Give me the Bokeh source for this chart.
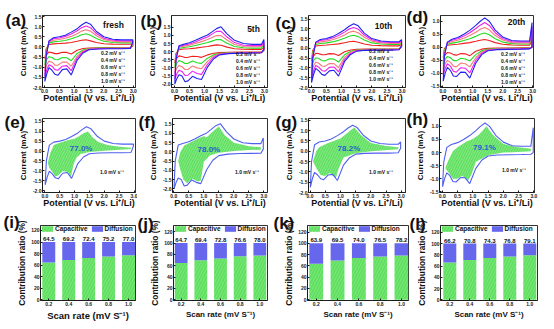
from bokeh.plotting import figure
from bokeh.models import (Range1d, FixedTicker, PrintfTickFormatter, Legend,
                          LegendItem, Label, ColumnDataSource)
from bokeh.layouts import column, row
from bokeh.embed import file_html
from bokeh.resources import INLINE
from bokeh.core.properties import value

FONT = "Liberation Sans"

# ---------------- data ----------------
RATES = ["0.2", "0.4", "0.6", "0.8", "1.0"]
RATE_COLORS = ["#f01f1f", "#22dd22", "#f47c7c", "#ee22ee", "#2222ee"]

V_ANODIC = [0.01, 0.05, 0.15, 0.3, 0.5, 0.7, 0.9, 1.1, 1.25, 1.4, 1.55, 1.75, 2.0, 2.3, 2.6, 2.9, 2.98]
V_CATHODIC = [2.98, 2.9, 2.6, 2.2, 1.8, 1.5, 1.3, 1.1, 0.9, 0.75, 0.6, 0.45, 0.35, 0.25, 0.15, 0.08, 0.01]

FRESH_ANODIC = [
    [-0.6, -0.1, 0.12, 0.15, 0.17, 0.19, 0.22, 0.28, 0.33, 0.35, 0.3, 0.22, 0.16, 0.14, 0.13, 0.13, 0.14],
    [-0.9, -0.2, 0.2, 0.25, 0.28, 0.32, 0.4, 0.5, 0.6, 0.65, 0.58, 0.42, 0.28, 0.22, 0.2, 0.2, 0.2],
    [-1.2, -0.3, 0.25, 0.33, 0.37, 0.43, 0.52, 0.65, 0.78, 0.85, 0.78, 0.55, 0.36, 0.28, 0.25, 0.25, 0.26],
    [-1.45, -0.4, 0.28, 0.4, 0.44, 0.52, 0.64, 0.8, 0.95, 1.03, 0.95, 0.66, 0.43, 0.33, 0.3, 0.3, 0.3],
    [-1.7, -0.5, 0.3, 0.45, 0.5, 0.58, 0.73, 0.9, 1.08, 1.22, 1.12, 0.76, 0.5, 0.38, 0.35, 0.35, 0.35],
]
FRESH_CATHODIC = [
    [0.05, -0.02, -0.03, -0.03, -0.04, -0.05, -0.08, -0.16, -0.35, -0.27, -0.26, -0.33, -0.33, -0.28, -0.25, -0.35, -0.6],
    [0.1, -0.04, -0.05, -0.05, -0.06, -0.08, -0.15, -0.32, -0.68, -0.53, -0.52, -0.63, -0.62, -0.52, -0.48, -0.6, -0.9],
    [0.15, -0.05, -0.06, -0.07, -0.08, -0.1, -0.2, -0.45, -0.95, -0.75, -0.75, -0.9, -0.9, -0.75, -0.7, -0.85, -1.2],
    [0.2, -0.06, -0.08, -0.08, -0.09, -0.12, -0.25, -0.55, -1.17, -0.92, -0.95, -1.15, -1.12, -0.95, -0.88, -1.1, -1.45],
    [0.25, -0.07, -0.09, -0.09, -0.1, -0.14, -0.3, -0.65, -1.38, -1.08, -1.12, -1.4, -1.35, -1.15, -1.02, -1.3, -1.7],
]

C5_ANODIC = [
    [-0.7, -0.1, 0.12, 0.16, 0.18, 0.22, 0.27, 0.32, 0.37, 0.42, 0.4, 0.28, 0.18, 0.15, 0.14, 0.14, 0.25],
    [-1.0, -0.2, 0.2, 0.26, 0.3, 0.38, 0.47, 0.56, 0.65, 0.75, 0.74, 0.52, 0.32, 0.24, 0.22, 0.22, 0.4],
    [-1.35, -0.3, 0.27, 0.34, 0.39, 0.5, 0.62, 0.75, 0.88, 1.0, 0.99, 0.72, 0.44, 0.32, 0.3, 0.3, 0.52],
    [-1.7, -0.4, 0.32, 0.4, 0.47, 0.6, 0.76, 0.9, 1.08, 1.25, 1.25, 0.9, 0.56, 0.4, 0.37, 0.37, 0.63],
    [-2.0, -0.5, 0.37, 0.45, 0.55, 0.7, 0.88, 1.03, 1.22, 1.42, 1.53, 1.1, 0.7, 0.5, 0.45, 0.45, 0.75],
]
C5_CATHODIC = [
    [0.05, -0.02, -0.03, -0.03, -0.04, -0.06, -0.1, -0.2, -0.35, -0.3, -0.28, -0.35, -0.36, -0.3, -0.26, -0.4, -0.7],
    [0.08, -0.04, -0.05, -0.05, -0.07, -0.1, -0.2, -0.4, -0.72, -0.68, -0.58, -0.72, -0.73, -0.62, -0.55, -0.7, -1.0],
    [0.1, -0.05, -0.06, -0.07, -0.09, -0.13, -0.28, -0.6, -1.05, -1.0, -0.88, -1.1, -1.1, -0.93, -0.85, -1.0, -1.35],
    [0.12, -0.06, -0.07, -0.08, -0.1, -0.16, -0.36, -0.78, -1.4, -1.35, -1.2, -1.45, -1.47, -1.22, -1.15, -1.35, -1.7],
    [0.15, -0.07, -0.08, -0.09, -0.12, -0.2, -0.45, -0.95, -1.72, -1.65, -1.52, -1.8, -1.85, -1.5, -1.42, -1.65, -2.0],
]

C10_ANODIC = [
    [-0.65, -0.1, 0.12, 0.15, 0.17, 0.2, 0.23, 0.29, 0.34, 0.36, 0.31, 0.22, 0.16, 0.14, 0.13, 0.13, 0.2],
    [-0.95, -0.2, 0.2, 0.25, 0.28, 0.33, 0.41, 0.52, 0.62, 0.67, 0.6, 0.43, 0.28, 0.22, 0.2, 0.2, 0.28],
    [-1.25, -0.3, 0.26, 0.33, 0.37, 0.44, 0.54, 0.68, 0.82, 0.88, 0.8, 0.57, 0.37, 0.28, 0.25, 0.25, 0.34],
    [-1.5, -0.4, 0.3, 0.4, 0.44, 0.53, 0.66, 0.83, 0.99, 1.07, 0.98, 0.68, 0.44, 0.33, 0.3, 0.3, 0.4],
    [-1.75, -0.5, 0.32, 0.45, 0.5, 0.6, 0.76, 0.95, 1.13, 1.26, 1.15, 0.78, 0.5, 0.38, 0.34, 0.34, 0.45],
]
C10_CATHODIC = [
    [0.05, -0.02, -0.03, -0.03, -0.04, -0.05, -0.08, -0.17, -0.36, -0.28, -0.27, -0.33, -0.32, -0.27, -0.25, -0.38, -0.65],
    [0.08, -0.04, -0.05, -0.05, -0.06, -0.08, -0.15, -0.33, -0.7, -0.55, -0.53, -0.64, -0.62, -0.52, -0.48, -0.62, -0.95],
    [0.1, -0.05, -0.06, -0.07, -0.08, -0.1, -0.2, -0.46, -0.98, -0.78, -0.77, -0.92, -0.9, -0.76, -0.7, -0.88, -1.25],
    [0.12, -0.06, -0.08, -0.08, -0.09, -0.12, -0.26, -0.57, -1.2, -0.95, -0.97, -1.17, -1.13, -0.96, -0.88, -1.12, -1.5],
    [0.15, -0.07, -0.09, -0.09, -0.1, -0.14, -0.31, -0.67, -1.42, -1.12, -1.15, -1.38, -1.33, -1.15, -1.02, -1.32, -1.75],
]

C20_ANODIC = [
    [-0.4, -0.05, 0.08, 0.1, 0.12, 0.15, 0.18, 0.23, 0.27, 0.3, 0.26, 0.18, 0.12, 0.09, 0.08, 0.08, 0.3],
    [-0.65, -0.12, 0.12, 0.16, 0.2, 0.26, 0.33, 0.42, 0.5, 0.55, 0.48, 0.33, 0.2, 0.14, 0.13, 0.13, 0.5],
    [-0.85, -0.2, 0.16, 0.22, 0.27, 0.35, 0.45, 0.58, 0.69, 0.76, 0.67, 0.45, 0.28, 0.18, 0.17, 0.17, 0.65],
    [-1.05, -0.28, 0.19, 0.27, 0.33, 0.43, 0.56, 0.72, 0.85, 0.95, 0.84, 0.56, 0.34, 0.22, 0.21, 0.21, 0.8],
    [-1.3, -0.35, 0.2, 0.31, 0.38, 0.5, 0.65, 0.84, 1.0, 1.13, 1.0, 0.66, 0.4, 0.26, 0.24, 0.24, 0.95],
]
C20_CATHODIC = [
    [0.0, -0.02, -0.02, -0.03, -0.03, -0.04, -0.07, -0.15, -0.32, -0.25, -0.24, -0.3, -0.28, -0.22, -0.2, -0.28, -0.4],
    [0.0, -0.03, -0.04, -0.04, -0.05, -0.07, -0.13, -0.28, -0.52, -0.45, -0.42, -0.52, -0.5, -0.4, -0.35, -0.45, -0.65],
    [0.0, -0.04, -0.05, -0.06, -0.07, -0.09, -0.18, -0.4, -0.75, -0.63, -0.6, -0.75, -0.72, -0.57, -0.5, -0.62, -0.85],
    [0.0, -0.05, -0.06, -0.07, -0.08, -0.11, -0.23, -0.5, -0.98, -0.8, -0.78, -0.95, -0.92, -0.72, -0.63, -0.8, -1.05],
    [0.0, -0.06, -0.07, -0.08, -0.09, -0.13, -0.28, -0.6, -1.18, -0.96, -0.95, -1.12, -1.1, -0.88, -0.77, -0.98, -1.3],
]

# capacitive-contribution regions at 1.0 mV/s
CAP_E_V = [0.1, 0.18, 0.3, 0.5, 0.8, 1.0, 1.15, 1.3, 1.45, 1.6, 1.8, 2.1, 2.5, 2.9, 2.9, 2.5, 2.0, 1.5, 1.2, 1.05, 0.95, 0.88, 0.75, 0.6, 0.45, 0.35, 0.25, 0.15]
CAP_E_I = [-0.6, -0.1, 0.3, 0.42, 0.55, 0.62, 0.75, 0.9, 0.98, 0.7, 0.45, 0.3, 0.22, 0.17, 0.1, 0.06, 0.02, -0.05, -0.15, -0.35, -0.75, -1.3, -1.05, -1.02, -1.22, -1.28, -1.05, -0.85]
CAP_F_V = [0.15, 0.22, 0.35, 0.6, 0.85, 1.0, 1.1, 1.3, 1.5, 1.7, 2.0, 2.5, 2.9, 2.9, 2.5, 2.0, 1.5, 1.2, 1.0, 0.9, 0.8, 0.62, 0.45, 0.32, 0.22]
CAP_F_I = [-0.5, 0.0, 0.35, 0.55, 0.75, 0.85, 0.8, 1.1, 1.38, 0.9, 0.5, 0.3, 0.25, 0.12, 0.1, 0.05, -0.05, -0.2, -0.55, -1.55, -1.6, -1.45, -1.7, -1.5, -0.95]
CAP_G_V = [0.1, 0.2, 0.3, 0.6, 1.0, 1.2, 1.45, 1.7, 2.0, 2.5, 2.9, 2.9, 2.0, 1.5, 1.1, 0.95, 0.85, 0.65, 0.5, 0.35, 0.2]
CAP_G_I = [-0.5, 0.0, 0.2, 0.4, 0.62, 0.85, 1.15, 0.75, 0.4, 0.25, 0.2, 0.1, 0.0, -0.1, -0.3, -0.8, -1.3, -1.05, -1.2, -1.15, -0.8]
CAP_H_V = [0.1, 0.2, 0.35, 0.5, 0.8, 1.0, 1.2, 1.45, 1.65, 2.0, 2.5, 2.9, 2.9, 2.0, 1.5, 1.1, 0.95, 0.85, 0.65, 0.5, 0.35, 0.2]
CAP_H_I = [-0.6, -0.3, 0.05, 0.2, 0.42, 0.52, 0.68, 1.0, 0.68, 0.33, 0.2, 0.15, 0.05, 0.0, -0.1, -0.35, -0.85, -1.05, -0.88, -1.0, -1.0, -0.75]
CAP_PERCENT = ["77.0%", "78.0%", "78.2%", "79.1%"]

# contribution ratios
SCAN_RATES = [0.2, 0.4, 0.6, 0.8, 1.0]
CAP_I = [64.5, 69.2, 72.4, 75.2, 77.0]
CAP_J = [64.7, 69.4, 72.8, 76.6, 78.0]
CAP_K = [63.9, 69.5, 74.0, 76.5, 78.2]
CAP_L = [66.2, 70.8, 74.3, 76.8, 79.1]

CV_X_TICKS = [0.0, 0.5, 1.0, 1.5, 2.0, 2.5, 3.0]
CV_Y_TICKS_WIDE = [-2.0, -1.5, -1.0, -0.5, 0.0, 0.5, 1.0, 1.5]
CV_Y_TICKS_NARROW = [-1.5, -1.0, -0.5, 0.0, 0.5, 1.0]
BAR_Y_TICKS = [0, 20, 40, 60, 80, 100, 120]

GREEN_FILL = "#5fe05f"
BLUE_FILL = "#6767ee"
OUTLINE_BLUE = "#4f5ff0"
TXT_BLUE = "#2d5bd6"


# ---------------- helpers ----------------
class Panel:
    def __init__(self, w, h, borders, xr, yr, letter, letter_pos):
        self.w, self.h, self.b, self.xr, self.yr = w, h, borders, xr, yr
        lb, rb, tb, bb = borders
        p = figure(width=w, height=h, min_border_left=lb, min_border_right=rb,
                   min_border_top=tb, min_border_bottom=bb,
                   x_range=Range1d(*xr), y_range=Range1d(*yr),
                   output_backend="svg", toolbar_location=None, tools="")
        p.xgrid.visible = False
        p.ygrid.visible = False
        p.outline_line_color = "#1a1a1a"
        p.outline_line_width = 0.9
        p.background_fill_color = "white"
        p.border_fill_color = "white"
        # panel letter drawn as the plot title, pulled left of / down next to the frame
        cx, cy = letter_pos
        p.title.text = letter
        p.title.align = "left"
        p.title.vertical_align = "bottom"
        p.title.offset = cx - lb
        p.title.standoff = int(round(-2 * (cy + 9.5 - tb)))
        p.title.text_font = FONT
        p.title.text_font_style = "bold"
        p.title.text_font_size = "17px"
        p.title.text_color = "#111111"
        self.p = p

    def to_data(self, cx, cy):
        lb, rb, tb, bb = self.b
        fx = (cx - lb) / (self.w - lb - rb)
        fy = (cy - tb) / (self.h - tb - bb)
        return (self.xr[0] + fx * (self.xr[1] - self.xr[0]),
                self.yr[1] - fy * (self.yr[1] - self.yr[0]))

    def text(self, txt, cx, cy, size, color="#111111", align="center"):
        x, y = self.to_data(cx, cy)
        self.p.add_layout(Label(x=x, y=y, text=txt, text_font=FONT,
                                text_font_style="bold", text_font_size=size,
                                text_color=color, text_align=align,
                                text_baseline="middle"))


def style_axes(p, xlabel, ylabel, xticks, yticks, xfmt, yfmt,
               xsize="9px", ysize="8px", xls=-3, yls=2):
    p.xaxis.ticker = FixedTicker(ticks=xticks)
    p.yaxis.ticker = FixedTicker(ticks=yticks)
    p.xaxis.formatter = PrintfTickFormatter(format=xfmt)
    p.yaxis.formatter = PrintfTickFormatter(format=yfmt)
    for ax in p.axis:
        ax.axis_line_color = "#1a1a1a"
        ax.axis_line_width = 0.9
        ax.major_tick_in = 2
        ax.major_tick_out = 0
        ax.major_tick_line_color = "#1a1a1a"
        ax.minor_tick_line_color = None
        ax.major_label_text_font = FONT
        ax.major_label_text_font_style = "bold"
        ax.major_label_text_font_size = "5px"
        ax.major_label_text_color = "#222222"
        ax.axis_label_text_font = FONT
        ax.axis_label_text_font_style = "bold"
        ax.axis_label_text_color = "#111111"
        ax.major_label_standoff = 1
    p.xaxis.axis_label = xlabel
    p.yaxis.axis_label = ylabel
    p.xaxis.axis_label_text_font_size = xsize
    p.yaxis.axis_label_text_font_size = ysize
    p.xaxis.axis_label_standoff = xls
    p.yaxis.axis_label_standoff = yls


def style_legend(leg, size="5px", gw=10, gh=6, lh=6, spacing=1):
    leg.label_text_font = FONT
    leg.label_text_font_style = "bold"
    leg.label_text_font_size = size
    leg.label_text_color = "#111111"
    leg.glyph_width = gw
    leg.glyph_height = gh
    leg.label_height = lh
    leg.label_standoff = 3
    leg.spacing = spacing
    leg.padding = 0
    leg.margin = 0
    leg.border_line_alpha = 0
    leg.background_fill_alpha = 0


XLAB_CV = "Potential (V vs. Li\u207a/Li)"
YLAB_CV = "Current (mA)"


def cv_panel(w, h, borders, xr, yr, yticks, anodic, cathodic, letter, letter_pos,
             tag, tag_xy, leg_loc):
    pn = Panel(w, h, borders, xr, yr, letter, letter_pos)
    p = pn.p
    style_axes(p, XLAB_CV, YLAB_CV, CV_X_TICKS, yticks, "%.1f", "%.1f")
    items = []
    for k in range(len(RATES)):
        p.line(V_ANODIC + V_CATHODIC, anodic[k] + cathodic[k],
               line_color=RATE_COLORS[k], line_width=1.1)
        dummy = p.line([], [], line_color=RATE_COLORS[k], line_width=3)
        items.append(LegendItem(label=RATES[k] + " mV s\u207b\u00b9", renderers=[dummy]))
    leg = Legend(items=items, location=leg_loc)
    style_legend(leg)
    p.add_layout(leg)
    pn.text(tag, tag_xy[0], tag_xy[1], "8.5px")
    return p


def cap_panel(w, h, borders, xr, yr, yticks, anodic, cathodic, cap_v, cap_i,
              pct, pct_pos, letter, letter_pos, leg_loc):
    pn = Panel(w, h, borders, xr, yr, letter, letter_pos)
    p = pn.p
    style_axes(p, XLAB_CV, YLAB_CV, CV_X_TICKS, yticks, "%.1f", "%.1f")
    p.patch(cap_v, cap_i, fill_color=GREEN_FILL, line_color=None,
            hatch_pattern="/", hatch_color="white", hatch_alpha=0.45,
            hatch_scale=5, hatch_weight=0.6)
    p.line(V_ANODIC + V_CATHODIC, anodic[4] + cathodic[4],
           line_color=OUTLINE_BLUE, line_width=1.1)
    dummy = p.line([], [], line_color=OUTLINE_BLUE, line_width=3)
    leg = Legend(items=[LegendItem(label="1.0 mV s\u207b\u00b9", renderers=[dummy])],
                 location=leg_loc)
    style_legend(leg)
    p.add_layout(leg)
    p.add_layout(Label(x=pct_pos[0], y=pct_pos[1], text=pct, text_font=FONT,
                       text_font_style="bold", text_font_size="8px",
                       text_color=TXT_BLUE, text_align="center",
                       text_baseline="middle"))
    return p


def bar_panel(w, h, borders, xr, yr, caps, letter, letter_pos, xsize):
    pn = Panel(w, h, borders, xr, yr, letter, letter_pos)
    p = pn.p
    style_axes(p, "Scan rate (mV S\u207b\u00b9)", "Contribution ratio (%)",
               SCAN_RATES, BAR_Y_TICKS, "%.1f", "%d", xsize=xsize, ysize="8.3px",
               xls=1, yls=1)
    src = ColumnDataSource(dict(x=SCAN_RATES, cap=caps, total=[100] * len(caps),
                                lbl=["%.1f" % c for c in caps]))
    p.vbar(x="x", width=0.13, bottom=0, top="cap", source=src,
           fill_color=GREEN_FILL, line_color=None, hatch_pattern="/",
           hatch_color="white", hatch_alpha=0.3, hatch_scale=6, hatch_weight=0.6,
           legend_label="Capacitive")
    p.vbar(x="x", width=0.13, bottom="cap", top="total", source=src,
           fill_color=BLUE_FILL, line_color=None, legend_label="Diffusion")
    p.text(x="x", y="total", text="lbl", source=src, text_align="center",
           text_baseline="bottom", y_offset=-1, text_font=value(FONT),
           text_font_style="bold", text_font_size="6px", text_color="#111111")
    leg = p.legend[0]
    leg.location = "top_left"
    leg.orientation = "horizontal"
    style_legend(leg, size="6.5px", gw=14, gh=7, lh=7, spacing=2)
    leg.label_standoff = 1
    return p


# ---------------- row 1 ----------------
pa = cv_panel(137, 105, (42, 2, 13, 14), (-0.07, 3.07), (-2.0, 1.55), CV_Y_TICKS_WIDE,
              FRESH_ANODIC, FRESH_CATHODIC, "(a)", (5, 18), "fresh", (113, 23), (46, 3))
pb = cv_panel(136, 105, (34, 6, 6, 14), (-0.1, 3.1), (-2.21, 2.23), CV_Y_TICKS_WIDE,
              C5_ANODIC, C5_CATHODIC, "(b)", (3, 12), "5th", (116, 22), (52, 2))
pc = cv_panel(133, 105, (35, 1, 10, 14), (-0.09, 3.11), (-2.0, 1.68), CV_Y_TICKS_WIDE,
              C10_ANODIC, C10_CATHODIC, "(c)", (2, 18), "10th", (110, 22), (48, 5))
pd = cv_panel(148, 105, (34, 21, 15, 14), (-0.08, 3.03), (-1.54, 1.22), CV_Y_TICKS_NARROW,
              C20_ANODIC, C20_CATHODIC, "(d)", (0, 17), "20th", (110, 22), (48, 2))

# ---------------- row 2 ----------------
pe = cap_panel(137, 105, (42, 2, 10, 15), (-0.08, 3.05), (-2.09, 1.64), CV_Y_TICKS_WIDE,
               FRESH_ANODIC, FRESH_CATHODIC, CAP_E_V, CAP_E_I, CAP_PERCENT[0], (1.22, 0.15),
               "(e)", (4, 14), (45, 17))
pf = cap_panel(136, 105, (35, 6, 10, 17), (-0.04, 3.12), (-2.2, 1.81), CV_Y_TICKS_WIDE,
               C5_ANODIC, C5_CATHODIC, CAP_F_V, CAP_F_I, CAP_PERCENT[1], (1.17, 0.13),
               "(f)", (1, 14), (50, 17))
pg = cap_panel(133, 105, (35, 1, 10, 17), (-0.05, 3.14), (-2.0, 1.59), CV_Y_TICKS_WIDE,
               C10_ANODIC, C10_CATHODIC, CAP_G_V, CAP_G_I, CAP_PERCENT[2], (1.28, 0.13),
               "(g)", (2, 14), (48, 17))
ph = cap_panel(148, 105, (33, 20, 13, 16), (-0.09, 3.02), (-1.52, 1.3), CV_Y_TICKS_NARROW,
               C20_ANODIC, C20_CATHODIC, CAP_H_V, CAP_H_I, CAP_PERCENT[3], (1.38, 0.19),
               "(h)", (0, 14), (50, 19))

# ---------------- row 3 ----------------
pi = bar_panel(137, 119, (40, 2, 15, 28), (0.117, 1.07), (-1, 128.6), CAP_I, "(i)", (3, 12), "9.5px")
pj = bar_panel(134, 119, (36, 4, 13, 28), (0.122, 1.078), (-1.5, 131), CAP_J, "(j)", (0, 12), "8px")
pk = bar_panel(138, 119, (36, 1, 14, 28), (0.118, 1.066), (-1.5, 131.6), CAP_K, "(k)", (2, 12), "8px")
pl = bar_panel(145, 119, (31, 17, 13, 29), (0.107, 1.077), (-1.2, 132), CAP_L, "(l)", (0, 12), "8px")

layout = column(row(pa, pb, pc, pd), row(pe, pf, pg, ph), row(pi, pj, pk, pl))

open("out.html", "w").write(file_html(layout, INLINE))
